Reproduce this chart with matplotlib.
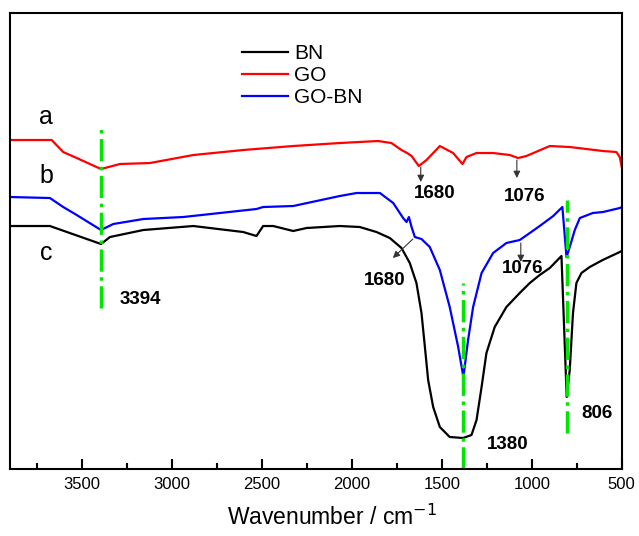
import numpy as np
import matplotlib
matplotlib.use("Agg")
import matplotlib.pyplot as plt

plt.rcParams['font.family'] = ['Liberation Sans', 'DejaVu Sans']

# FTIR spectra, transmittance in arbitrary units (curves offset as in the figure)
wn_go = [3900, 3668, 3604, 3529, 3394, 3289, 3122, 2881, 2604, 2326, 2067, 1854,
         1780, 1724, 1693, 1668, 1628, 1585, 1511, 1437, 1385, 1363, 1307, 1215,
         1122, 1076, 1030, 900, 789, 696, 604, 530, 511, 500]
t_go = [329, 329, 317, 311, 300, 305, 306, 314, 319, 323, 326, 328,
        326, 319, 316, 313, 303, 309, 323, 316, 305, 312, 316, 316,
        314, 311, 313, 323, 322, 320, 318, 317, 312, 302]

wn_gobn = [3900, 3678, 3604, 3529, 3394, 3326, 3159, 2937, 2530, 2493, 2326, 2067,
           1974, 1844, 1770, 1715, 1696, 1683, 1668, 1650, 1613, 1567, 1511, 1456,
           1409, 1380, 1354, 1326, 1279, 1215, 1141, 1067, 1011, 956, 881, 830,
           807, 789, 761, 733, 661, 604, 511, 500]
t_gobn = [272, 271, 262, 254, 239, 245, 250, 252, 260, 262, 263, 273,
          276, 276, 266, 251, 247, 252, 242, 232, 230, 222, 199, 162,
          122, 92, 129, 162, 196, 216, 226, 229, 236, 243, 253, 262,
          212, 222, 239, 251, 256, 257, 261, 262]

wn_bn = [3900, 3678, 3394, 3344, 3159, 2881, 2789, 2604, 2530, 2493, 2437, 2326,
         2252, 2067, 1956, 1863, 1789, 1724, 1678, 1641, 1613, 1594, 1576, 1548,
         1511, 1456, 1382, 1335, 1307, 1279, 1252, 1206, 1141, 1067, 1011, 956,
         900, 835, 806, 789, 771, 752, 724, 678, 606, 511, 500]
t_bn = [243, 243, 225, 232, 239, 243, 241, 237, 233, 243, 243, 238,
        241, 243, 242, 237, 231, 221, 206, 186, 156, 122, 89, 62,
        42, 32, 31, 34, 49, 82, 116, 142, 162, 176, 186, 194,
        201, 213, 72, 99, 156, 186, 196, 202, 209, 217, 218]

# marker lines (position, ymin, ymax)
peak_lines = [(3394, 161, 344), (1380, 0, 186), (806, 36, 269)]

fig = plt.figure(figsize=(6.39, 5.36), dpi=100)
ax = fig.add_axes([0.0156, 0.125, 0.9574, 0.8507])

ax.plot(wn_bn, t_bn, color='black', lw=1.6, label='BN')
ax.plot(wn_go, t_go, color='#ff0000', lw=1.6, label='GO')
ax.plot(wn_gobn, t_gobn, color='#0000ff', lw=1.6, label='GO-BN')

for pos, y0, y1 in peak_lines:
    ax.plot([pos, pos], [y0, y1], color='#00e600', lw=2.5, linestyle='-.')

# curve letters
for letter, yv in [('a', 352), ('b', 293), ('c', 216)]:
    ax.text(3700, yv, letter, fontsize=18, ha='center', va='center')

# peak labels
bold = dict(fontsize=13.5, fontweight='bold', ha='center', va='center')
ax.text(3178, 170, '3394', **bold)
ax.text(1539, 276, '1680', **bold)
ax.text(1039, 273, '1076', **bold)
ax.text(1817, 189, '1680', **bold)
ax.text(1050, 201, '1076', **bold)
ax.text(1133, 25, '1380', **bold)
ax.text(639, 56, '806', **bold)

# small arrows
arrows = [((1617, 302), (1617, 287)), ((1083, 309), (1083, 291)),
          ((1061, 226), (1061, 207)), ((1661, 230), (1772, 211))]
for start, end in arrows:
    ax.annotate('', xy=end, xytext=start,
                arrowprops=dict(arrowstyle='-|>', color='#333333', lw=0.8,
                                mutation_scale=10, shrinkA=0, shrinkB=0))

ax.set_xlim(3900, 500)
ax.set_ylim(0, 456)
ax.set_xticks([3500, 3000, 2500, 2000, 1500, 1000, 500])
ax.set_xticks(np.arange(3750, 500, -500), minor=True)
ax.set_yticks([])
ax.tick_params(axis='x', which='major', direction='in', length=7, width=1.5,
               labelsize=12, pad=6, top=False)
ax.tick_params(axis='x', which='minor', direction='in', length=4, width=1.5, top=False)
for s in ax.spines.values():
    s.set_linewidth(1.5)

ax.set_xlabel('Wavenumber / cm$^{-1}$', fontsize=16.5, labelpad=9)
ax.xaxis.label.set_x(0.527)

leg = ax.legend(loc='upper left', bbox_to_anchor=(0.366, 0.95), frameon=False,
                fontsize=15, handlelength=2.2, handletextpad=0.3,
                labelspacing=0.15, borderaxespad=0)

fig.savefig('out.png', dpi=100)
